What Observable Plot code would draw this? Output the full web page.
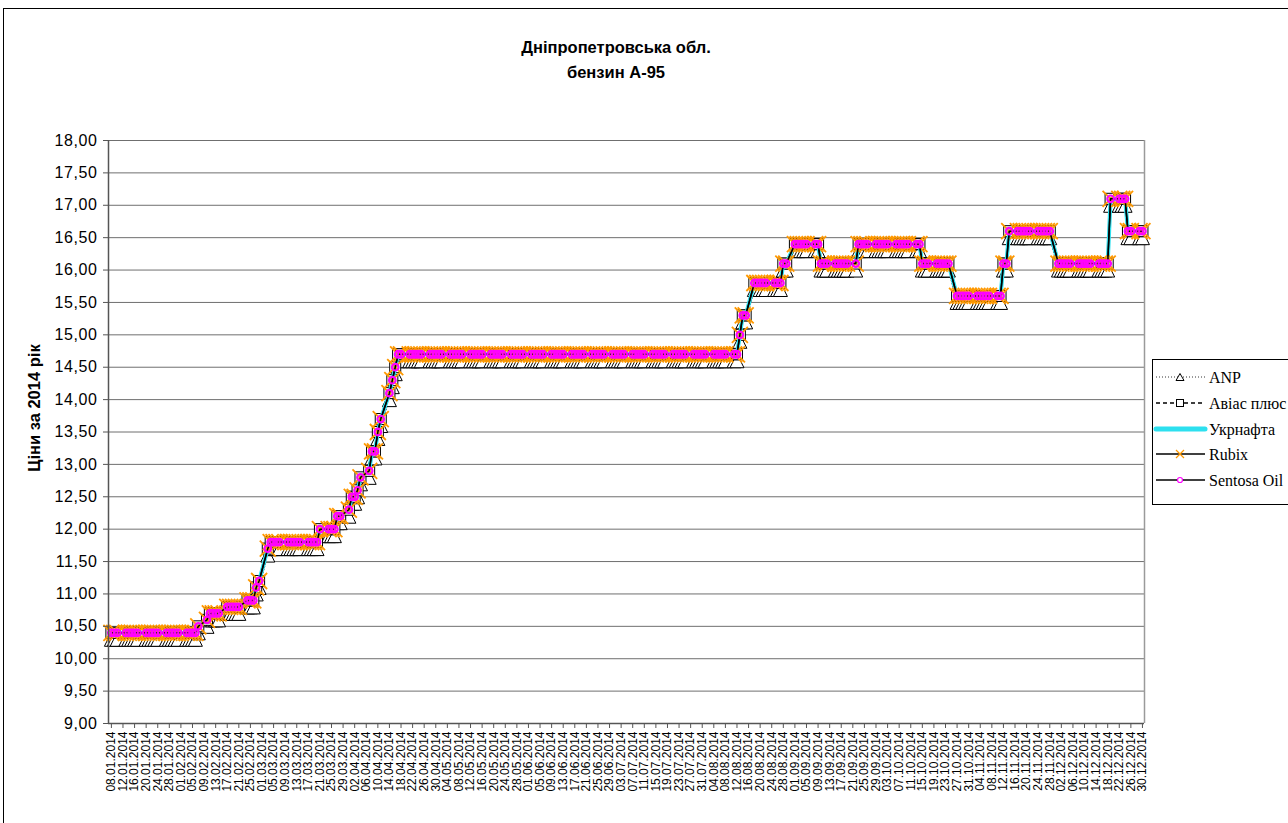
<!DOCTYPE html>
<html><head><meta charset="utf-8">
<script src="https://cdn.jsdelivr.net/npm/d3@7"></script>
<script src="https://cdn.jsdelivr.net/npm/@observablehq/plot@0.6"></script>
<style>
html,body{margin:0;padding:0;background:#fff;}
#wrap{position:relative;width:1288px;height:823px;overflow:hidden;background:#fff;font-family:"Liberation Sans",Arial,sans-serif;}
#frame{position:absolute;left:3px;top:8px;width:1400px;height:1000px;border:1px solid #000;box-sizing:border-box;}
#chart{position:absolute;left:0;top:0;}
#title{position:absolute;left:0;top:35px;width:1232px;text-align:center;font-weight:bold;font-size:16.5px;line-height:25px;color:#000;}
#ylab{position:absolute;left:34px;top:408px;transform:translate(-50%,-50%) rotate(-90deg);font-weight:bold;font-size:16.5px;white-space:nowrap;}
#legend{position:absolute;left:1152px;top:359px;}
#chart svg g[aria-label="y-axis tick label"] text{letter-spacing:0.6px;}
</style></head><body>
<div id="wrap"><div id="frame"></div><div id="chart"></div>
<div id="title">Дніпропетровська обл.<br>бензин А-95</div>
<div id="ylab">Ціни за 2014 рік</div>
<div id="legend"></div></div>
<script>
// ---- data (weekday prices, 2014) ----
const seriesNames = ["ANP", "Авіас плюс", "Укрнафта", "Rubix", "Sentosa Oil"];
const yTicks = [9,9.5,10,10.5,11,11.5,12,12.5,13,13.5,14,14.5,15,15.5,16,16.5,17,17.5,18];

// common price level (Авіас плюс, Укрнафта, Rubix, Sentosa Oil)
const jan = [10.4,10.4,10.4,10.4,10.4,10.4,10.4,10.4,10.4,10.4,10.4,10.4,10.4,10.4,10.4,10.4,10.4,10.4];
const feb = [10.4,10.4,10.4,10.4,10.5,10.6,10.7,10.7,10.7,10.7,10.8,10.8,10.8,10.8,10.8,10.9,10.9,10.9,11.1,11.2];
const mar = [11.7,11.8,11.8,11.8,11.8,11.8,11.8,11.8,11.8,11.8,11.8,11.8,11.8,11.8,12.0,12.0,12.0,12.0,12.2,12.2,12.3];
const apr = [12.5,12.5,12.6,12.8,12.9,13.2,13.2,13.5,13.7,14.1,14.3,14.5,14.7,14.7,14.7,14.7,14.7,14.7,14.7,14.7,14.7,14.7];
const may = [14.7,14.7,14.7,14.7,14.7,14.7,14.7,14.7,14.7,14.7,14.7,14.7,14.7,14.7,14.7,14.7,14.7,14.7,14.7,14.7,14.7,14.7];
const jun = [14.7,14.7,14.7,14.7,14.7,14.7,14.7,14.7,14.7,14.7,14.7,14.7,14.7,14.7,14.7,14.7,14.7,14.7,14.7,14.7,14.7];
const jul = [14.7,14.7,14.7,14.7,14.7,14.7,14.7,14.7,14.7,14.7,14.7,14.7,14.7,14.7,14.7,14.7,14.7,14.7,14.7,14.7,14.7,14.7,14.7];
const aug = [14.7,14.7,14.7,14.7,14.7,14.7,14.7,14.7,15.0,15.3,15.3,15.8,15.8,15.8,15.8,15.8,15.8,15.8,15.8,16.1,16.1];
const sep = [16.4,16.4,16.4,16.4,16.4,16.4,16.4,16.1,16.1,16.1,16.1,16.1,16.1,16.1,16.1,16.1,16.4,16.4,16.4,16.4,16.4,16.4];
const oct = [16.4,16.4,16.4,16.4,16.4,16.4,16.4,16.4,16.4,16.4,16.1,16.1,16.1,16.1,16.1,16.1,16.1,16.1,15.6,15.6,15.6,15.6,15.6];
const nov = [15.6,15.6,15.6,15.6,15.6,15.6,15.6,16.1,16.1,16.6,16.6,16.6,16.6,16.6,16.6,16.6,16.6,16.6,16.6,16.6];
const dec = [16.1,16.1,16.1,16.1,16.1,16.1,16.1,16.1,16.1,16.1,16.1,16.1,16.1,16.1,17.1,17.1,17.1,17.1,16.6,16.6,16.6,16.6];

// ANP (slightly lower)
const anpJan = [10.3,10.3,10.3,10.3,10.3,10.3,10.3,10.3,10.3,10.3,10.3,10.3,10.3,10.3,10.3,10.3,10.3,10.3];
const anpFeb = [10.3,10.3,10.3,10.3,10.4,10.5,10.6,10.6,10.6,10.6,10.7,10.7,10.7,10.7,10.7,10.8,10.8,10.8,11.0,11.1];
const anpMar = [11.6,11.7,11.7,11.7,11.7,11.7,11.7,11.7,11.7,11.7,11.7,11.7,11.7,11.7,11.9,11.9,11.9,11.9,12.1,12.1,12.2];
const anpApr = [12.4,12.4,12.5,12.7,12.8,13.1,13.1,13.4,13.6,14.0,14.2,14.4,14.6,14.6,14.6,14.6,14.6,14.6,14.6,14.6,14.6,14.6];
const anpMay = [14.6,14.6,14.6,14.6,14.6,14.6,14.6,14.6,14.6,14.6,14.6,14.6,14.6,14.6,14.6,14.6,14.6,14.6,14.6,14.6,14.6,14.6];
const anpJun = [14.6,14.6,14.6,14.6,14.6,14.6,14.6,14.6,14.6,14.6,14.6,14.6,14.6,14.6,14.6,14.6,14.6,14.6,14.6,14.6,14.6];
const anpJul = [14.6,14.6,14.6,14.6,14.6,14.6,14.6,14.6,14.6,14.6,14.6,14.6,14.6,14.6,14.6,14.6,14.6,14.6,14.6,14.6,14.6,14.6,14.6];
const anpAug = [14.6,14.6,14.6,14.6,14.6,14.6,14.6,14.6,14.9,15.2,15.2,15.7,15.7,15.7,15.7,15.7,15.7,15.7,15.7,16.0,16.0];
const anpSep = [16.3,16.3,16.3,16.3,16.3,16.3,16.3,16.0,16.0,16.0,16.0,16.0,16.0,16.0,16.0,16.0,16.3,16.3,16.3,16.3,16.3,16.3];
const anpOct = [16.3,16.3,16.3,16.3,16.3,16.3,16.3,16.3,16.3,16.3,16.0,16.0,16.0,16.0,16.0,16.0,16.0,16.0,15.5,15.5,15.5,15.5,15.5];
const anpNov = [15.5,15.5,15.5,15.5,15.5,15.5,15.5,16.0,16.0,16.5,16.5,16.5,16.5,16.5,16.5,16.5,16.5,16.5,16.5,16.5];
const anpDec = [16.0,16.0,16.0,16.0,16.0,16.0,16.0,16.0,16.0,16.0,16.0,16.0,16.0,16.0,17.0,17.0,17.0,17.0,16.5,16.5,16.5,16.5];

// ---- build ----
const start = new Date(Date.UTC(2014,0,8)), stop = new Date(Date.UTC(2014,11,31));
const dates = d3.utcDay.range(start, stop).filter(d => d.getUTCDay() !== 0 && d.getUTCDay() !== 6);
const tickDates = d3.utcDay.range(start, stop, 4);
const common = [].concat(jan,feb,mar,apr,may,jun,jul,aug,sep,oct,nov,dec);
const anp = [].concat(anpJan,anpFeb,anpMar,anpApr,anpMay,anpJun,anpJul,anpAug,anpSep,anpOct,anpNov,anpDec);
const rows = (vals) => dates.map((d,i) => ({date:d, price:vals[i]}));
const dANP = rows(anp), dAv = rows(common), dUkr = rows(common), dRub = rows(common), dSen = rows(common);

const sym = fn => ({draw(ctx, size){ const r = Math.sqrt(size/Math.PI); fn(ctx, r); }});
const triEx = sym((c,r)=>{c.moveTo(0,-r);c.lineTo(r,r);c.lineTo(-r,r);c.closePath();});
const sqEx = sym((c,r)=>{c.moveTo(-r,-r);c.lineTo(r,-r);c.lineTo(r,r);c.lineTo(-r,r);c.closePath();});
const xEx = sym((c,r)=>{c.moveTo(-r,-r);c.lineTo(r,r);c.moveTo(-r,r);c.lineTo(r,-r);});

const x0 = new Date(Date.UTC(2014,0,7)), x1 = new Date(Date.UTC(2014,11,30,17));
const XY = {x:"date", y:"price"};
const chart = Plot.plot({
  width:1288, height:823, marginLeft:108, marginRight:144, marginTop:140, marginBottom:100,
  style:{fontFamily:"'Liberation Sans', Arial, sans-serif", background:"transparent", color:"#000"},
  x:{type:"utc", domain:[x0, x1]},
  y:{domain:[9,18]},
  marks:[
    Plot.ruleY(yTicks.slice(1), {stroke:"#6f6f6f", strokeWidth:1}),
    Plot.ruleX([x1], {stroke:"#9a9a9a", strokeWidth:1.5}),
    Plot.line(dANP, {...XY, stroke:"#000", strokeWidth:0.8, strokeDasharray:"1,2"}),
    Plot.dot(dANP, {...XY, symbol:triEx, r:7, fill:"#fff", stroke:"#000", strokeWidth:1}),
    Plot.line(dAv, {...XY, stroke:"#000", strokeWidth:1.2, strokeDasharray:"4,3"}),
    Plot.dot(dAv, {...XY, symbol:sqEx, r:5.5, fill:"#fff", stroke:"#000", strokeWidth:1}),
    Plot.line(dUkr, {...XY, stroke:"#2de0ef", strokeWidth:4}),
    Plot.line(dRub, {...XY, stroke:"#000", strokeWidth:1.5}),
    Plot.dot(dRub, {...XY, symbol:xEx, r:8, fill:"none", stroke:"#ff9900", strokeWidth:1.8}),
    Plot.line(dSen, {...XY, stroke:"#000", strokeWidth:1.5}),
    Plot.dot(dSen, {...XY, r:3.3, fill:"none", stroke:"#ff00ff", strokeWidth:2.2}),
    Plot.ruleX([x0], {stroke:"#555", strokeWidth:1.5}),
    Plot.ruleY([9], {stroke:"#555", strokeWidth:1.5}),
    Plot.axisY({ticks:yTicks, tickFormat:d => d.toFixed(2).replace(".", ","), tickSize:5, tickPadding:6, fontSize:16, label:null, stroke:"#555"}),
    Plot.axisX({ticks:tickDates, tickFormat:d3.utcFormat("%d.%m.%Y"), tickRotate:-90, tickSize:5, tickPadding:3, fontSize:12, label:null, stroke:"#555"})
  ]
});
document.getElementById("chart").appendChild(chart);

// ---- legend ----
const lg = d3.select("#legend").append("svg").attr("width",140).attr("height",148);
lg.append("rect").attr("x",0.5).attr("y",0.5).attr("width",200).attr("height",145).attr("fill","#fff").attr("stroke","#000");
const rowsY = [18,44,70,95,121];
const styles = [
  {line:{stroke:"#000", w:0.8, dash:"1,2"}, mark:"tri"},
  {line:{stroke:"#000", w:1.3, dash:"4,3"}, mark:"sq"},
  {line:{stroke:"#2de0ef", w:5, dash:null, cap:"round"}, mark:null},
  {line:{stroke:"#000", w:1.5, dash:null}, mark:"x"},
  {line:{stroke:"#000", w:1.5, dash:null}, mark:"o"}
];
seriesNames.forEach((name,i) => {
  const y = rowsY[i], s = styles[i], cx = 28;
  lg.append("line").attr("x1",4).attr("x2",53).attr("y1",y).attr("y2",y)
    .attr("stroke",s.line.stroke).attr("stroke-width",s.line.w)
    .attr("stroke-dasharray",s.line.dash).attr("stroke-linecap",s.line.cap||"butt");
  if (s.mark==="tri") lg.append("path").attr("d",`M${cx},${y-3.5}L${cx+4},${y+3.5}L${cx-4},${y+3.5}Z`).attr("fill","#fff").attr("stroke","#000");
  if (s.mark==="sq") lg.append("rect").attr("x",cx-3.5).attr("y",y-3.5).attr("width",7).attr("height",7).attr("fill","#fff").attr("stroke","#000");
  if (s.mark==="x") lg.append("path").attr("d",`M${cx-4},${y-4}L${cx+4},${y+4}M${cx-4},${y+4}L${cx+4},${y-4}`).attr("stroke","#ff9900").attr("stroke-width",1.2);
  if (s.mark==="o") lg.append("circle").attr("cx",cx).attr("cy",y).attr("r",2.5).attr("fill","#fff").attr("stroke","#ff00ff").attr("stroke-width",1.2);
  lg.append("text").attr("x",57).attr("y",y).attr("dy","0.35em").attr("font-family","'Liberation Serif','Times New Roman',serif").attr("font-size",16).text(name);
});
if (dates.length !== common.length || dates.length !== anp.length) console.error("length mismatch", dates.length, common.length, anp.length);
</script></body></html>
